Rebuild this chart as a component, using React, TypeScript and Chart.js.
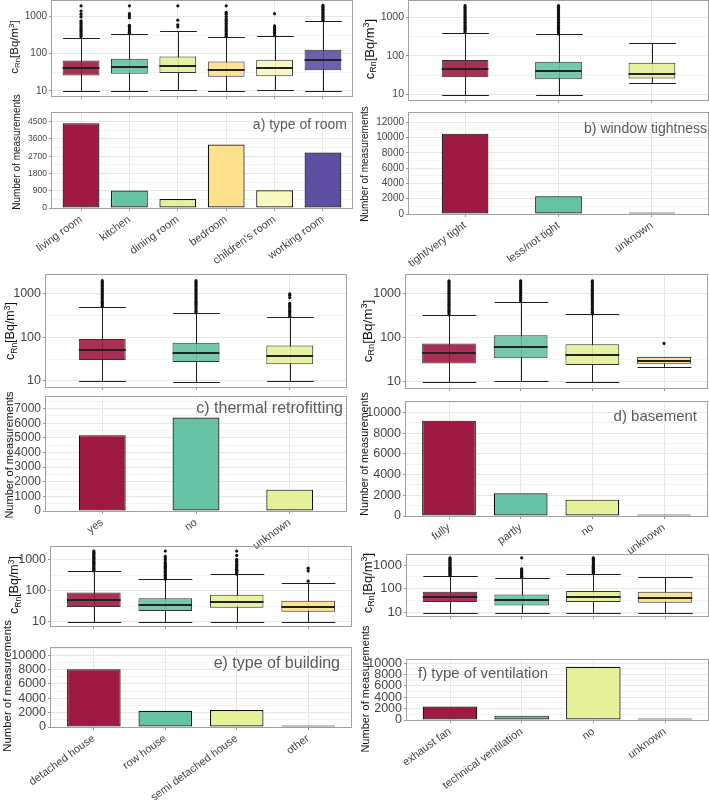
import React, { useEffect, useRef } from 'react';
import { Chart, registerables } from 'chart.js';

Chart.register(...registerables);

const FONT = "'Liberation Sans', Arial, Helvetica, sans-serif";
Chart.defaults.font.family = FONT;

// ---------- colours ----------
const CRIMSON = '#9E1A42';
const TEAL = '#66C2A5';
const LIME = '#E6F098';
const GOLD = '#FDE08B';
const CREAM = '#FAF7BE';
const PURPLE = '#5E4FA2';

// ---------- a) type of room ----------
const roomCategories = ['living room', 'kitchen', 'dining room', 'bedroom', "children's room", 'working room'];
const roomColors = [CRIMSON, TEAL, LIME, GOLD, CREAM, PURPLE];
const roomCounts = [4420, 910, 470, 3310, 920, 2890];
const roomLow = [10, 10, 10.4, 10, 10.4, 10];
const roomQ1 = [26, 29, 30, 24, 24.6, 36];
const roomMedian = [41, 44, 46, 37, 40, 66];
const roomQ3 = [66, 73, 84, 62, 69, 127];
const roomHigh = [265, 340, 415, 275, 300, 770];
const roomOutliers = [
  [290, 320, 350, 390, 430, 480, 530, 590, 650, 720, 770, 980, 1160, 1410, 1950],
  [350, 380, 420, 460, 500, 540, 580, 930, 1050, 1200, 1950],
  [530, 600, 800, 1950],
  [290, 320, 350, 390, 430, 480, 530, 590, 650, 720, 800, 870, 1000, 1160, 1300, 1950],
  [310, 340, 380, 420, 460, 510, 560, 1200],
  [800, 870, 950, 1030, 1120, 1220, 1330, 1450, 1580, 1720, 1870, 2000],
];
const roomCountTicks = [0, 900, 1800, 2700, 3600, 4500];
const roomCountMinor = [450, 1350, 2250, 3150, 4050];

// ---------- b) window tightness ----------
const windowCategories = ['tight/very tight', 'less/not tight', 'unknown'];
const windowColors = [CRIMSON, TEAL, LIME];
const windowCounts = [10500, 2320, 110];
const windowLow = [9.6, 9.6, 20];
const windowQ1 = [28, 25, 26];
const windowMedian = [46, 41, 34];
const windowQ3 = [78, 71, 67];
const windowHigh = [390, 360, 216];
const windowOutliers = [
  [400, 440, 480, 520, 570, 620, 680, 740, 810, 880, 960, 1050, 1150, 1250, 1370, 1500, 1640, 1800, 2000],
  [370, 400, 440, 480, 520, 570, 620, 680, 740, 810, 880, 960, 1050, 1150, 1250, 1370, 1500, 1640, 1800, 2000],
  [],
];
const windowCountTicks = [0, 2000, 4000, 6000, 8000, 10000, 12000];
const windowCountMinor = [1000, 3000, 5000, 7000, 9000, 11000, 13000];

// ---------- c) thermal retrofitting ----------
const retrofitCategories = ['yes', 'no', 'unknown'];
const retrofitColors = [CRIMSON, TEAL, LIME];
const retrofitCounts = [5190, 6390, 1460];
const retrofitLow = [10, 9.5, 9.7];
const retrofitQ1 = [30, 27, 24];
const retrofitMedian = [50, 44, 38];
const retrofitQ3 = [91, 74, 64];
const retrofitHigh = [480, 350, 285];
const retrofitOutliers = [
  [500, 540, 580, 630, 680, 740, 800, 870, 940, 1020, 1110, 1200, 1300, 1410, 1530, 1660, 1800, 1950],
  [360, 390, 420, 460, 500, 540, 580, 630, 680, 740, 800, 870, 940, 1020, 1110, 1200, 1300, 1410, 1530, 1660, 1800, 1950],
  [300, 330, 360, 390, 420, 460, 500, 540, 590, 800, 900, 980],
];
const retrofitCountTicks = [0, 1000, 2000, 3000, 4000, 5000, 6000, 7000];
const retrofitCountMinor = [500, 1500, 2500, 3500, 4500, 5500, 6500, 7500];

// ---------- d) basement ----------
const basementCategories = ['fully', 'partly', 'no', 'unknown'];
const basementColors = [CRIMSON, TEAL, LIME, GOLD];
const basementCounts = [9200, 2190, 1580, 20];
const basementLow = [9.7, 10.2, 9.7, 22];
const basementQ1 = [26, 34, 24, 25];
const basementMedian = [44, 60, 40, 29];
const basementQ3 = [74, 113, 71, 37];
const basementHigh = [325, 650, 337, 37];
const basementOutliers = [
  [330, 360, 390, 420, 460, 500, 540, 580, 630, 680, 740, 800, 870, 940, 1020, 1110, 1200, 1300, 1410, 1530, 1660, 1800, 1950],
  [660, 710, 770, 830, 900, 970, 1050, 1140, 1230, 1330, 1440, 1560, 1690, 1830, 1950],
  [345, 370, 400, 440, 480, 520, 560, 610, 660, 720, 780, 850, 920, 1000, 1090, 1180, 1280, 1400, 1520, 1650, 1800, 1950],
  [74],
];
const basementCountTicks = [0, 2000, 4000, 6000, 8000, 10000];
const basementCountMinor = [1000, 3000, 5000, 7000, 9000, 11000];

// ---------- e) type of building ----------
const buildingCategories = ['detached house', 'row house', 'semi detached house', 'other'];
const buildingColors = [CRIMSON, TEAL, LIME, GOLD];
const buildingCounts = [8050, 2250, 2350, 150];
const buildingLow = [9.5, 9.5, 10, 10];
const buildingQ1 = [30, 22, 28, 21];
const buildingMedian = [49, 35, 44, 30];
const buildingQ3 = [89, 57, 75, 48];
const buildingHigh = [435, 233, 340, 176];
const buildingOutliers = [
  [450, 490, 540, 590, 650, 710, 780, 850, 930, 1020, 1120, 1230, 1350, 1480, 1620, 1780, 1950],
  [240, 260, 290, 320, 350, 390, 430, 470, 520, 570, 630, 690, 760, 840, 1000, 1150, 1300, 1950],
  [350, 380, 420, 460, 500, 550, 600, 660, 720, 850, 950, 1050, 1400, 1950],
  [205, 440, 540],
];
const buildingCountTicks = [0, 2000, 4000, 6000, 8000, 10000];
const buildingCountMinor = [1000, 3000, 5000, 7000, 9000, 11000];

// ---------- f) type of ventilation ----------
const ventilationCategories = ['exhaust fan', 'technical ventilation', 'no', 'unknown'];
const ventilationColors = [CRIMSON, TEAL, LIME, GOLD];
const ventilationCounts = [2380, 770, 9400, 30];
const ventilationLow = [10, 10, 10, 10];
const ventilationQ1 = [28, 20, 28, 26];
const ventilationMedian = [46, 33, 46, 43];
const ventilationQ3 = [75, 58, 82, 75];
const ventilationHigh = [345, 290, 420, 320];
const ventilationOutliers = [
  [360, 400, 440, 490, 540, 600, 660, 730, 810, 900, 1000, 1100, 1220, 1350, 1500, 1660, 1830, 2000],
  [300, 340, 380, 430, 480, 540, 610, 690, 2000],
  [430, 480, 530, 590, 650, 720, 800, 890, 990, 1100, 1220, 1350, 1500, 1660, 1830, 2000],
  [],
];
const ventilationCountTicks = [0, 2000, 4000, 6000, 8000, 10000];
const ventilationCountMinor = [1000, 3000, 5000, 7000, 9000];

// ---------- concentration axis ----------
const LOG_MIN = 7.24;
const LOG_MAX = 2630;
const logMajorTicks = [10, 100, 1000];
const logMinorTicks = [31.6, 316];

// ---------- styling ----------
const TICK_TEXT = '#444444';
const TICK_MARK = '#9A9A9A';
const GRID_MAJOR = '#E6E6E6';
const GRID_MINOR = '#F3F3F3';
const FRAME = '#A0A0A0';
const YW = 60;
const PT = 10;
const PR = 10;
const XH_BOX = 10;
const XH_BAR = 120;

type Rect = { l: number; t: number; r: number; b: number };

const panels = [
  {
    cats: roomCategories, colors: roomColors, counts: roomCounts,
    low: roomLow, q1: roomQ1, med: roomMedian, q3: roomQ3, high: roomHigh, out: roomOutliers,
    major: roomCountTicks, minor: roomCountMinor, countMax: 4950, frac: 0.76,
    boxRect: { l: 52, t: 1, r: 352, b: 96 }, barRect: { l: 52, t: 113, r: 352, b: 208 },
    boxTick: 10, barTick: 8.5, labelSize: 11, rot: 36,
    note: { text: 'a) type of room', x: 347, y: 124, align: 'right', size: 14 },
    crn: { x: 15, y: 47, size: 11.5 }, num: { x: 17, y: 152, size: 10 },
  },
  {
    cats: windowCategories, colors: windowColors, counts: windowCounts,
    low: windowLow, q1: windowQ1, med: windowMedian, q3: windowQ3, high: windowHigh, out: windowOutliers,
    major: windowCountTicks, minor: windowCountMinor, countMax: 13200, frac: 0.5,
    boxRect: { l: 409, t: 1, r: 708, b: 100 }, barRect: { l: 409, t: 113, r: 708, b: 214 },
    boxTick: 10.5, barTick: 10, labelSize: 11, rot: 36,
    note: { text: 'b) window tightness', x: 707, y: 128, align: 'right', size: 14 },
    crn: { x: 370, y: 49, size: 13 }, num: { x: 365, y: 164, size: 10 },
  },
  {
    cats: retrofitCategories, colors: retrofitColors, counts: retrofitCounts,
    low: retrofitLow, q1: retrofitQ1, med: retrofitMedian, q3: retrofitQ3, high: retrofitHigh, out: retrofitOutliers,
    major: retrofitCountTicks, minor: retrofitCountMinor, countMax: 7800, frac: 0.5,
    boxRect: { l: 46, t: 275, r: 346, b: 387 }, barRect: { l: 46, t: 397, r: 346, b: 511 },
    boxTick: 12.5, barTick: 12, labelSize: 11, rot: 36,
    note: { text: 'c) thermal retrofitting', x: 343, y: 408, align: 'right', size: 16 },
    crn: { x: 10, y: 331, size: 12.5 }, num: { x: 9, y: 455, size: 11 },
  },
  {
    cats: basementCategories, colors: basementColors, counts: basementCounts,
    low: basementLow, q1: basementQ1, med: basementMedian, q3: basementQ3, high: basementHigh, out: basementOutliers,
    major: basementCountTicks, minor: basementCountMinor, countMax: 11000, frac: 0.75,
    boxRect: { l: 406, t: 275, r: 707, b: 388 }, barRect: { l: 406, t: 402, r: 707, b: 516 },
    boxTick: 12.5, barTick: 12.5, labelSize: 11, rot: 36,
    note: { text: 'd) basement', x: 697, y: 415, align: 'right', size: 15 },
    crn: { x: 368, y: 331, size: 13.5 }, num: { x: 364, y: 454, size: 10.7 },
  },
  {
    cats: buildingCategories, colors: buildingColors, counts: buildingCounts,
    low: buildingLow, q1: buildingQ1, med: buildingMedian, q3: buildingQ3, high: buildingHigh, out: buildingOutliers,
    major: buildingCountTicks, minor: buildingCountMinor, countMax: 11000, frac: 0.75,
    boxRect: { l: 51, t: 547, r: 351, b: 626 }, barRect: { l: 51, t: 648, r: 351, b: 727 },
    boxTick: 12.5, barTick: 12.5, labelSize: 11, rot: 36,
    note: { text: 'e) type of building', x: 340, y: 663, align: 'right', size: 16 },
    crn: { x: 14, y: 585, size: 12.5 }, num: { x: 8, y: 686, size: 11.4 },
  },
  {
    cats: ventilationCategories, colors: ventilationColors, counts: ventilationCounts,
    low: ventilationLow, q1: ventilationQ1, med: ventilationMedian, q3: ventilationQ3, high: ventilationHigh, out: ventilationOutliers,
    major: ventilationCountTicks, minor: ventilationCountMinor, countMax: 10580, frac: 0.76,
    boxRect: { l: 407, t: 555, r: 708, b: 616 }, barRect: { l: 407, t: 660, r: 708, b: 720 },
    boxTick: 13, barTick: 12.5, labelSize: 11, rot: 36,
    note: { text: 'f) type of ventilation', x: 418, y: 672, align: 'left', size: 15 },
    crn: { x: 368, y: 583, size: 13 }, num: { x: 365, y: 689, size: 11 },
  },
];

type Panel = typeof panels[number];

function withAlpha(hex: string, a: number) {
  const r = parseInt(hex.slice(1, 3), 16);
  const g = parseInt(hex.slice(3, 5), 16);
  const b = parseInt(hex.slice(5, 7), 16);
  return `rgba(${r},${g},${b},${a})`;
}

const framePlugin = {
  id: 'frame',
  afterDraw(chart: any) {
    const { ctx, chartArea: a } = chart;
    ctx.save();
    ctx.strokeStyle = FRAME;
    ctx.lineWidth = 1;
    ctx.strokeRect(Math.round(a.left) - 0.5, Math.round(a.top) - 0.5, Math.round(a.right - a.left) + 1, Math.round(a.bottom - a.top) + 1);
    ctx.restore();
  },
};

function whiskerPlugin(p: Panel) {
  const halfWidth = (chart: any) => {
    const x = chart.scales.x;
    return ((x.getPixelForValue(1) - x.getPixelForValue(0)) * p.frac) / 2;
  };
  return {
    id: 'whiskers',
    beforeDatasetsDraw(chart: any) {
      const { ctx, scales } = chart;
      const { x, y } = scales;
      const hw = halfWidth(chart);
      ctx.save();
      ctx.strokeStyle = '#1E1E1E';
      ctx.lineWidth = 1;
      p.cats.forEach((_, i) => {
        const cx = Math.round(x.getPixelForValue(i)) + 0.5;
        const yl = Math.round(y.getPixelForValue(p.low[i])) + 0.5;
        const yh = Math.round(y.getPixelForValue(p.high[i])) + 0.5;
        ctx.beginPath();
        ctx.moveTo(cx, yl);
        ctx.lineTo(cx, yh);
        ctx.moveTo(cx - hw, yl);
        ctx.lineTo(cx + hw, yl);
        ctx.moveTo(cx - hw, yh);
        ctx.lineTo(cx + hw, yh);
        ctx.stroke();
      });
      ctx.restore();
    },
    afterDatasetsDraw(chart: any) {
      const { ctx, scales } = chart;
      const { x, y } = scales;
      const hw = halfWidth(chart);
      ctx.save();
      ctx.strokeStyle = '#222222';
      ctx.lineWidth = 2;
      p.cats.forEach((_, i) => {
        const cx = x.getPixelForValue(i);
        const ym = Math.round(y.getPixelForValue(p.med[i]));
        ctx.beginPath();
        ctx.moveTo(cx - hw, ym);
        ctx.lineTo(cx + hw, ym);
        ctx.stroke();
      });
      ctx.restore();
    },
  };
}

function boxConfig(p: Panel): any {
  const n = p.cats.length;
  const points = p.out.flatMap((vals, i) => vals.map((v) => ({ x: i, y: v })));
  return {
    type: 'bar',
    data: {
      datasets: [
        {
          type: 'scatter', data: points, pointRadius: 1.6, pointHoverRadius: 1.6,
          backgroundColor: '#111111', borderWidth: 0, order: 0,
        },
        {
          type: 'bar',
          data: p.cats.map((_, i) => ({ x: i, y: [p.q1[i], p.q3[i]] })),
          backgroundColor: p.colors.map((c) => withAlpha(c, 0.9)),
          borderColor: '#333333', borderWidth: 1, borderSkipped: false,
          barPercentage: p.frac, categoryPercentage: 1, order: 1,
        },
      ],
    },
    options: {
      responsive: false, animation: false, devicePixelRatio: 1, events: [],
      layout: { padding: { left: 0, top: PT, right: PR, bottom: 0 } },
      plugins: { legend: { display: false }, tooltip: { enabled: false } },
      scales: {
        x: {
          type: 'linear', min: -0.6, max: n - 0.4, offset: false,
          afterBuildTicks: (s: any) => { s.ticks = p.cats.map((_, i) => ({ value: i })); },
          afterFit: (s: any) => { s.height = XH_BOX; },
          ticks: { display: false },
          grid: { color: GRID_MAJOR, offset: false, tickLength: 3, tickColor: TICK_MARK },
          border: { display: false },
        },
        y: {
          type: 'logarithmic', min: LOG_MIN, max: LOG_MAX,
          afterBuildTicks: (s: any) => {
            s.ticks = [...logMajorTicks, ...logMinorTicks].sort((a, b) => a - b).map((v) => ({ value: v }));
          },
          afterFit: (s: any) => { s.width = YW; },
          ticks: {
            autoSkip: false, padding: 2, color: TICK_TEXT, font: { size: p.boxTick },
            callback: (v: any) => (logMajorTicks.includes(Number(v)) ? String(v) : ''),
          },
          grid: {
            color: (c: any) => (logMajorTicks.includes(c.tick?.value) ? GRID_MAJOR : GRID_MINOR),
            tickLength: 3,
            tickColor: (c: any) => (logMajorTicks.includes(c.tick?.value) ? TICK_MARK : 'rgba(0,0,0,0)'),
          },
          border: { display: false },
        },
      },
    },
    plugins: [whiskerPlugin(p), framePlugin],
  };
}

function barConfig(p: Panel): any {
  const n = p.cats.length;
  return {
    type: 'bar',
    data: {
      datasets: [
        {
          data: p.counts.map((v, i) => ({ x: i, y: v })),
          backgroundColor: p.colors, borderColor: '#111111', borderWidth: 1.2, borderSkipped: false,
          barPercentage: p.frac, categoryPercentage: 1, minBarLength: 1.5,
        },
      ],
    },
    options: {
      responsive: false, animation: false, devicePixelRatio: 1, events: [],
      layout: { padding: { left: 0, top: PT, right: PR, bottom: 0 } },
      plugins: { legend: { display: false }, tooltip: { enabled: false } },
      scales: {
        x: {
          type: 'linear', min: -0.6, max: n - 0.4, offset: false,
          afterBuildTicks: (s: any) => { s.ticks = p.cats.map((_, i) => ({ value: i })); },
          afterFit: (s: any) => { s.height = XH_BAR; },
          ticks: {
            autoSkip: false, minRotation: p.rot, maxRotation: p.rot, padding: 2,
            color: TICK_TEXT, font: { size: p.labelSize },
            callback: (v: any) => p.cats[Math.round(Number(v))] ?? '',
          },
          grid: { color: GRID_MAJOR, offset: false, tickLength: 3, tickColor: TICK_MARK },
          border: { display: false },
        },
        y: {
          type: 'linear', min: 0, max: p.countMax,
          afterBuildTicks: (s: any) => {
            s.ticks = [...p.major, ...p.minor.filter((v) => v <= p.countMax)].sort((a, b) => a - b).map((v) => ({ value: v }));
          },
          afterFit: (s: any) => { s.width = YW; },
          ticks: {
            autoSkip: false, padding: 2, color: TICK_TEXT, font: { size: p.barTick },
            callback: (v: any) => (p.major.includes(Number(v)) ? String(v) : ''),
          },
          grid: {
            color: (c: any) => (p.major.includes(c.tick?.value) ? GRID_MAJOR : GRID_MINOR),
            tickLength: 3,
            tickColor: (c: any) => (p.major.includes(c.tick?.value) ? TICK_MARK : 'rgba(0,0,0,0)'),
          },
          border: { display: false },
        },
      },
    },
    plugins: [framePlugin],
  };
}

function ChartCanvas({ rect, xh, make }: { rect: Rect; xh: number; make: () => any }) {
  const ref = useRef<HTMLCanvasElement | null>(null);
  const w = rect.r - rect.l + YW + PR;
  const h = rect.b - rect.t + PT + xh;
  useEffect(() => {
    if (!ref.current) return;
    const chart = new Chart(ref.current, make());
    return () => chart.destroy();
  }, []);
  return (
    <canvas
      ref={ref}
      width={w}
      height={h}
      style={{ position: 'absolute', left: rect.l - YW, top: rect.t - PT, width: w, height: h }}
    />
  );
}

function RotatedLabel({ x, y, size, children }: { x: number; y: number; size: number; children: any }) {
  return (
    <div
      style={{
        position: 'absolute', left: x, top: y, transform: 'translate(-50%, -50%) rotate(-90deg)',
        whiteSpace: 'nowrap', fontSize: size, lineHeight: 1, color: '#111', fontFamily: FONT,
      }}
    >
      {children}
    </div>
  );
}

function ConcentrationTitle() {
  return (
    <span>
      c<span style={{ fontSize: '0.68em', verticalAlign: '-0.28em' }}>Rn</span>
      [Bq/m<span style={{ fontSize: '0.68em', verticalAlign: '0.55em' }}>3</span>]
    </span>
  );
}

export default function App() {
  return (
    <div
      style={{
        position: 'absolute', left: 0, top: 0, width: 709, height: 800, overflow: 'hidden',
        background: '#ffffff', fontFamily: FONT,
      }}
    >
      {panels.map((p, k) => (
        <React.Fragment key={k}>
          <ChartCanvas rect={p.boxRect} xh={XH_BOX} make={() => boxConfig(p)} />
          <ChartCanvas rect={p.barRect} xh={XH_BAR} make={() => barConfig(p)} />
          <div
            style={{
              position: 'absolute', left: p.note.x, top: p.note.y,
              transform: p.note.align === 'right' ? 'translate(-100%, -50%)' : 'translate(0, -50%)',
              fontSize: p.note.size, color: '#5A5A5A', whiteSpace: 'nowrap', lineHeight: 1,
            }}
          >
            {p.note.text}
          </div>
          <RotatedLabel x={p.crn.x} y={p.crn.y} size={p.crn.size}>
            <ConcentrationTitle />
          </RotatedLabel>
          <RotatedLabel x={p.num.x} y={p.num.y} size={p.num.size}>
            Number of measurements
          </RotatedLabel>
        </React.Fragment>
      ))}
    </div>
  );
}
